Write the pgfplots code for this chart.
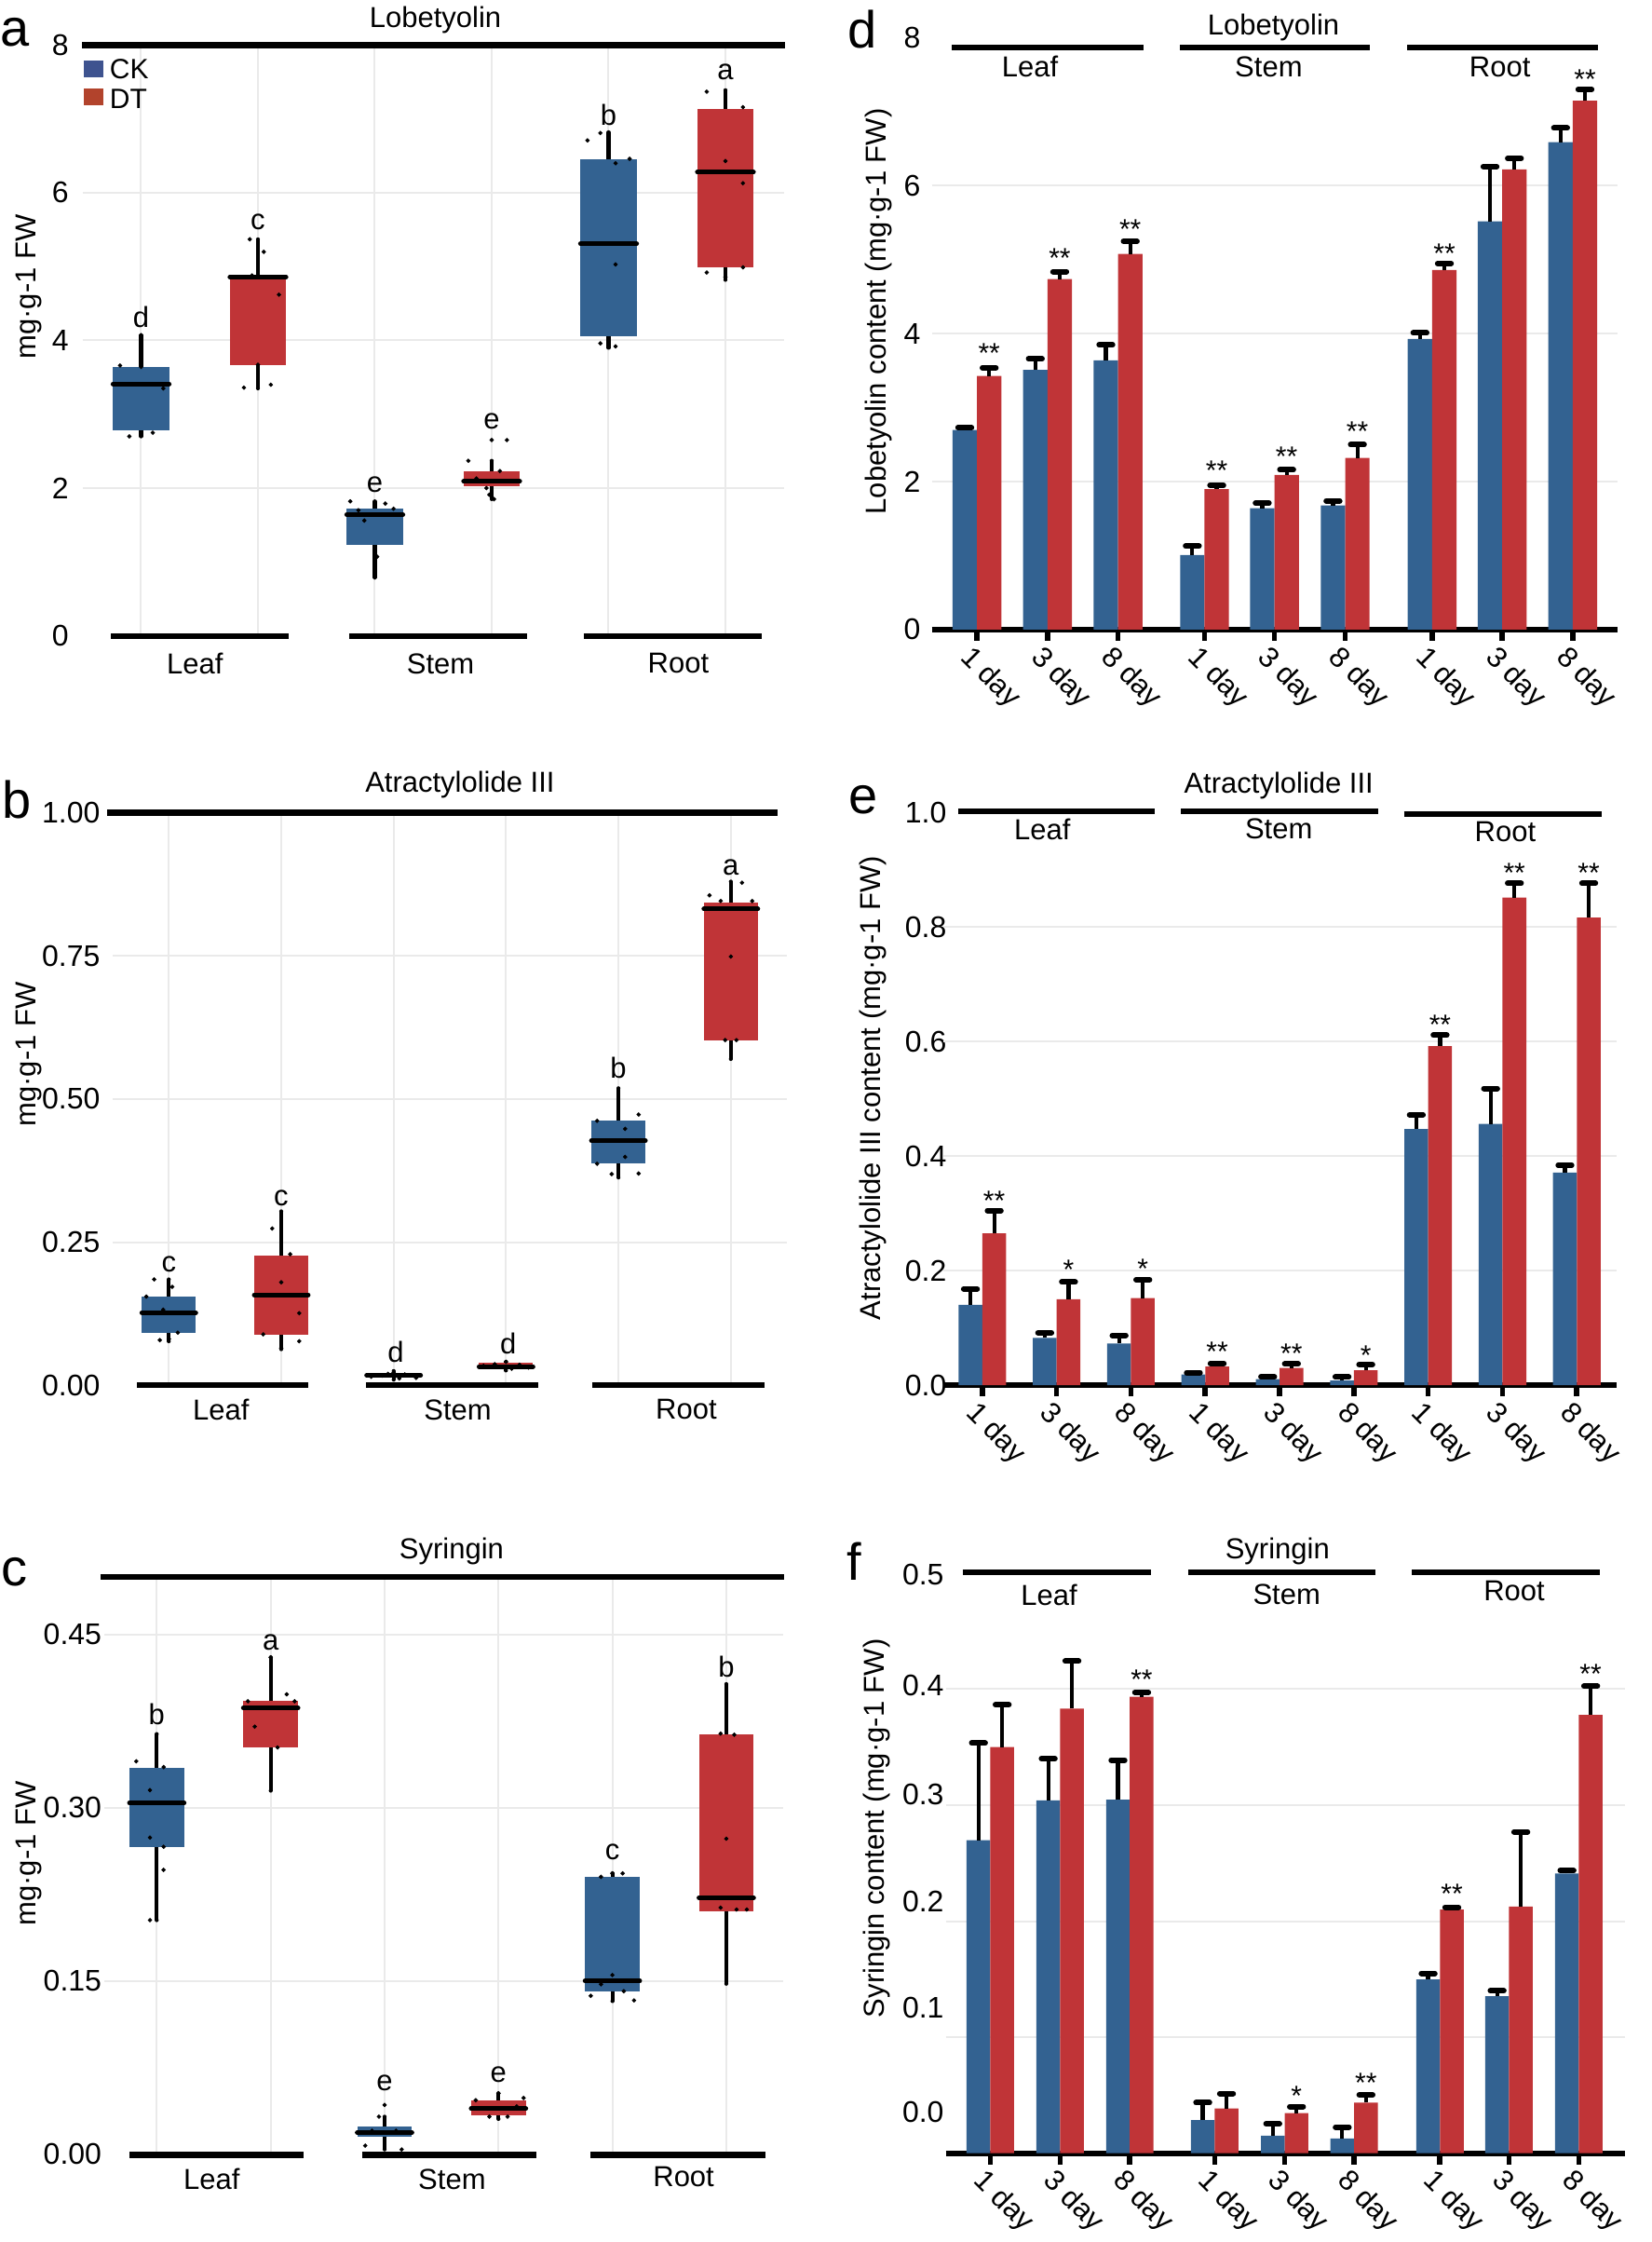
\documentclass[border=0pt]{standalone}
\usepackage{fontspec}
\setmainfont{Liberation Sans}
\usepackage{pgfplots}
\usepackage{pgfplotstable}
\pgfplotsset{compat=1.18}
\usepgfplotslibrary{statistics}
\definecolor{boxblue}{RGB}{51,98,145}
\definecolor{boxred}{RGB}{192,52,55}
\definecolor{legblue}{RGB}{62,83,143}
\definecolor{legred}{RGB}{178,67,44}
\definecolor{gridgray}{RGB}{234,234,234}
\newcommand{\fs}[1]{\fontsize{#1}{#1}\selectfont}

\pgfplotstableread{
x ck cke dt dte
0     2.70 0.03 3.43 0.11
1     3.51 0.15 4.74 0.10
2     3.64 0.21 5.08 0.17
3.226 1.01 0.12 1.90 0.05
4.217 1.64 0.07 2.09 0.07
5.22  1.68 0.06 2.32 0.18
6.453 3.93 0.08 4.86 0.09
7.446 5.52 0.74 6.22 0.15
8.446 6.59 0.19 7.15 0.15
}\dataD
\pgfplotstableread{
x ck cke dt dte
0 0.140  0.028  0.265  0.040
1 0.0825 0.009  0.150  0.030
2 0.0728 0.014  0.152  0.032
3 0.0186 0.0032 0.0324 0.0056
4 0.0105 0.004  0.030  0.007
5 0.008  0.006  0.026  0.010
6 0.447  0.025  0.592  0.019
7 0.456  0.062  0.851  0.025
8 0.371  0.013  0.816  0.060
}\dataE
\pgfplotstableread{
x ck cke dt dte
0     0.2697 0.0837 0.350  0.0365
1     0.304  0.036  0.383  0.041
2     0.3047 0.034  0.3933 0.0037
3.216 0.0285 0.015  0.0386 0.0129
4.22  0.0152 0.0102 0.0346 0.0056
5.216 0.0128 0.0097 0.0435 0.0068
6.447 0.1497 0.0053 0.210  0.002
7.436 0.1352 0.0048 0.2125 0.0645
8.438 0.241  0.0025 0.3776 0.0249
}\dataF

\pgfplotsset{
 boxpanel/.style={
   scale only axis, anchor=south west,
   xmin=0.5, xmax=6.5,
   xtick={1,2,3,4,5,6}, xticklabels={}, xmajorgrids,
   axis line style={draw=none}, tick style={draw=none},
   grid style={line width=1pt, gridgray},
   clip=false,
   yticklabel style={font=\fs{16}, inner sep=0pt, anchor=east},
   extra y tick labels={}, extra y tick style={grid=major},
   boxplot/draw direction=y,
   boxplot/box extend=0.48, boxplot/whisker extend=0,
   boxplot/every box/.style={draw=none},
   boxplot/every whisker/.style={draw=black, line width=2.1pt, line cap=round},
   boxplot/every median/.style={draw=black, line width=2.5pt, line cap=round},
 },
 dots/.style={only marks, mark=*, mark size=0.95pt, black},
 barpanel/.style={
   scale only axis, anchor=south west, ybar,
   axis x line*=bottom, axis y line*=left,
   x axis line style={-, line width=2.9pt, black},
   y axis line style={draw=none},
   tick align=outside, major tick length=6pt,
   xtick style={line width=2.8pt, black},
   ytick style={draw=none},
   xticklabels={1 day,3 day,8 day,1 day,3 day,8 day,1 day,3 day,8 day},
   xticklabel style={rotate=-45, anchor=north west, inner sep=0pt, font=\fs{15.5}, yshift=-2pt},
   yticklabel style={font=\fs{16}, inner sep=0pt, anchor=east},
   grid style={line width=1pt, gridgray},
   extra y tick labels={}, extra y tick style={grid=major},
   clip=false, ymin=0,
 },
 errs/.style={
   error bars/y dir=plus, error bars/y explicit,
   error bars/error bar style={draw=black, line width=2.1pt},
   error bars/error mark options={draw=black, line width=3pt, line cap=round, mark size=3.6pt, rotate=90}},
 ckbar/.style={fill=boxblue, draw=none, errs},
 dtbar/.style={fill=boxred, draw=none, errs},
}
\tikzset{
 star/.style={font=\fs{15}, inner sep=0pt, yshift=-3.2pt},
 lett/.style={font=\fs{15.5}, inner sep=0pt},
}

\begin{document}
\begin{tikzpicture}
\path[use as bounding box] (0pt,0pt) rectangle (886.5pt,1203.5pt);

% ---------------- panel a
\begin{axis}[boxpanel, at={(44.375pt,862.25pt)}, width=376.5pt, height=317pt,
  ymin=0, ymax=8, ytick={0,2,4,6,8}, yticklabels={0,2,4,6,8}, extra y ticks={2,4,6},
  yticklabel style={xshift=-7.3pt}]
\addplot[fill=boxblue, draw=black, boxplot prepared={lower whisker=2.70, lower quartile=2.78, median=3.41, upper quartile=3.64, upper whisker=4.07, draw position=1}] coordinates {};
\addplot[fill=boxred, draw=black, boxplot prepared={lower whisker=3.35, lower quartile=3.67, median=4.86, upper quartile=4.88, upper whisker=5.37, draw position=2}] coordinates {};
\addplot[fill=boxblue, draw=black, boxplot prepared={lower whisker=0.79, lower quartile=1.23, median=1.64, upper quartile=1.72, upper whisker=1.82, draw position=3}] coordinates {};
\addplot[fill=boxred, draw=black, boxplot prepared={lower whisker=1.85, lower quartile=2.02, median=2.09, upper quartile=2.23, upper whisker=2.37, draw position=4}] coordinates {};
\addplot[fill=boxblue, draw=black, boxplot prepared={lower whisker=3.90, lower quartile=4.06, median=5.31, upper quartile=6.46, upper whisker=6.82, draw position=5}] coordinates {};
\addplot[fill=boxred, draw=black, boxplot prepared={lower whisker=4.82, lower quartile=4.99, median=6.28, upper quartile=7.13, upper whisker=7.39, draw position=6}] coordinates {};
\addplot[dots] coordinates {(0.82,3.66)(1.19,3.35)(0.90,2.70)(1.10,2.75)(1,4.07)(1,3.64)(1,2.72)
 (1.93,5.37)(2.05,5.20)(1.95,4.88)(2.18,4.62)(1.88,3.36)(2.11,3.40)(2,3.67)
 (2.79,1.82)(2.86,1.70)(3.09,1.79)(3.16,1.72)(2.91,1.56)(3,1.19)(3.02,1.07)(3,0.79)
 (3.80,2.37)(4,2.65)(4.13,2.65)(4.07,2.23)(3.87,2.13)(3.955,2.0)(3.98,1.91)(4.02,1.85)
 (4.82,6.71)(4.93,6.81)(5.06,6.40)(5.18,6.46)(5.06,5.03)(4.93,3.96)(5.06,3.92)
 (5.84,7.37)(6.15,7.16)(6,6.43)(6.15,6.13)(5.84,4.92)(6.15,4.99)(6,4.86)};
\node[lett] at (axis cs:1,4.31) {d};
\node[lett] at (axis cs:2,5.60) {c};
\node[lett] at (axis cs:3,2.04) {e};
\node[lett] at (axis cs:4,2.90) {e};
\node[lett] at (axis cs:5,7.05) {b};
\node[lett] at (axis cs:6,7.63) {a};
\end{axis}

% ---------------- panel b
\begin{axis}[boxpanel, at={(60.475pt,459.85pt)}, width=362.1pt, height=307.3pt,
  ymin=0, ymax=1, ytick={0,0.25,0.5,0.75,1}, yticklabels={0.00,0.25,0.50,0.75,1.00},
  extra y ticks={0.25,0.5,0.75}, yticklabel style={xshift=-6.6pt}]
\addplot[fill=boxblue, draw=black, boxplot prepared={lower whisker=0.077, lower quartile=0.0916, median=0.127, upper quartile=0.155, upper whisker=0.185, draw position=1}] coordinates {};
\addplot[fill=boxred, draw=black, boxplot prepared={lower whisker=0.063, lower quartile=0.0885, median=0.158, upper quartile=0.227, upper whisker=0.304, draw position=2}] coordinates {};
\addplot[fill=boxblue, draw=black, boxplot prepared={lower whisker=0.010, lower quartile=0.013, median=0.0175, upper quartile=0.022, upper whisker=0.025, draw position=3}] coordinates {};
\addplot[fill=boxred, draw=black, boxplot prepared={lower whisker=0.026, lower quartile=0.0284, median=0.033, upper quartile=0.0395, upper whisker=0.041, draw position=4}] coordinates {};
\addplot[fill=boxblue, draw=black, boxplot prepared={lower whisker=0.363, lower quartile=0.387, median=0.4275, upper quartile=0.462, upper whisker=0.519, draw position=5}] coordinates {};
\addplot[fill=boxred, draw=black, boxplot prepared={lower whisker=0.570, lower quartile=0.603, median=0.832, upper quartile=0.844, upper whisker=0.880, draw position=6}] coordinates {};
\addplot[dots] coordinates {(0.87,0.185)(1.03,0.172)(0.80,0.155)(0.95,0.132)(0.92,0.079)(1.08,0.092)(1,0.081)
 (1.92,0.274)(2.08,0.229)(2,0.180)(2.16,0.126)(1.84,0.089)(2.16,0.077)(2,0.065)
 (2.8,0.015)(2.9,0.017)(3,0.022)(3.05,0.012)(3.1,0.019)(3.2,0.013)(2.95,0.02)
 (3.8,0.034)(3.9,0.037)(4,0.041)(4.05,0.029)(4.12,0.036)(4.2,0.031)
 (4.81,0.462)(5.18,0.473)(5.06,0.448)(5.06,0.399)(4.81,0.387)(4.94,0.369)(5.18,0.370)
 (5.81,0.856)(6.1,0.878)(5.91,0.846)(6.19,0.846)(6,0.749)(5.95,0.603)(6.05,0.603)};
\node[lett] at (axis cs:1,0.2115) {c};
\node[lett] at (axis cs:2,0.327) {c};
\node[lett] at (axis cs:3.02,0.0577) {d};
\node[lett] at (axis cs:4.02,0.0735) {d};
\node[lett] at (axis cs:5,0.555) {b};
\node[lett] at (axis cs:6,0.905) {a};
\end{axis}

% ---------------- panel c
\begin{axis}[boxpanel, at={(56.05pt,47.2pt)}, width=364.5pt, height=310.05pt,
  xmin=0.54, ymin=0, ymax=0.5, ytick={0,0.15,0.30,0.45}, yticklabels={0.00,0.15,0.30,0.45},
  extra y ticks={0.15,0.30,0.45}, yticklabel style={xshift=-1.35pt}]
\addplot[fill=boxblue, draw=black, boxplot prepared={lower whisker=0.2025, lower quartile=0.2656, median=0.304, upper quartile=0.334, upper whisker=0.3636, draw position=1}] coordinates {};
\addplot[fill=boxred, draw=black, boxplot prepared={lower whisker=0.3146, lower quartile=0.3522, median=0.3862, upper quartile=0.3927, upper whisker=0.430, draw position=2}] coordinates {};
\addplot[fill=boxblue, draw=black, boxplot prepared={lower whisker=0.004, lower quartile=0.015, median=0.0186, upper quartile=0.0239, upper whisker=0.0324, draw position=3}] coordinates {};
\addplot[fill=boxred, draw=black, boxplot prepared={lower whisker=0.0304, lower quartile=0.0336, median=0.0393, upper quartile=0.0466, upper whisker=0.0526, draw position=4}] coordinates {};
\addplot[fill=boxblue, draw=black, boxplot prepared={lower whisker=0.1324, lower quartile=0.1409, median=0.1498, upper quartile=0.240, upper whisker=0.243, draw position=5}] coordinates {};
\addplot[fill=boxred, draw=black, boxplot prepared={lower whisker=0.1474, lower quartile=0.2105, median=0.2219, upper quartile=0.3632, upper whisker=0.4069, draw position=6}] coordinates {};
\addplot[dots] coordinates {(0.82,0.340)(1.06,0.335)(0.94,0.315)(0.94,0.274)(1.06,0.266)(1.06,0.246)(0.94,0.2025)
 (1.8,0.392)(2.14,0.398)(2.21,0.392)(1.86,0.370)(2.06,0.352)(2,0.43)
 (3,0.0425)(2.95,0.0324)(2.83,0.0073)(3.15,0.004)(3.1,0.0202)(2.89,0.0202)
 (3.8,0.0466)(4.22,0.0486)(4,0.0526)(3.92,0.0324)(4.08,0.0324)(4.16,0.0413)
 (4.9,0.240)(5,0.243)(5.09,0.243)(5,0.155)(4.9,0.147)(4.81,0.137)(5.1,0.141)(5.19,0.133)
 (5.95,0.364)(6.07,0.363)(6,0.273)(5.95,0.2133)(6.09,0.2117)(6.18,0.2117)};
\node[lett] at (axis cs:1,0.3806) {b};
\node[lett] at (axis cs:2,0.4433) {a};
\node[lett] at (axis cs:3,0.0615) {e};
\node[lett] at (axis cs:4,0.0688) {e};
\node[lett] at (axis cs:5,0.2611) {c};
\node[lett] at (axis cs:6,0.4218) {b};
\end{axis}

% ---------------- panel d
\begin{axis}[barpanel, at={(500.35pt,865.5pt)}, width=368.2pt, height=317.7pt,
  xmin=-0.639, xmax=9.083, ymax=8, xtick={0,1,2,3.226,4.217,5.22,6.453,7.446,8.446},
  ytick={0,2,4,6,8}, yticklabels={0,2,4,6,8}, extra y ticks={2,4,6},
  yticklabel style={xshift=0pt}]
\addplot[ckbar, bar width=0.346, bar shift=-0.173] table[x=x, y=ck, y error=cke] {\dataD};
\addplot[dtbar, bar width=0.346, bar shift=0.173] table[x=x, y=dt, y error=dte] {\dataD};
\node[star] at (axis cs:0.173,3.815) {**};
\node[star] at (axis cs:1.173,5.10) {**};
\node[star] at (axis cs:2.173,5.49) {**};
\node[star] at (axis cs:3.4,2.23) {**};
\node[star] at (axis cs:4.39,2.42) {**};
\node[star] at (axis cs:5.393,2.76) {**};
\node[star] at (axis cs:6.626,5.16) {**};
\node[star] at (axis cs:8.62,7.52) {**};
\end{axis}

% ---------------- panel e
\begin{axis}[barpanel, at={(506.35pt,459.95pt)}, width=361.65pt, height=307.5pt,
  xmin=-0.528, xmax=8.536, ymax=1, xtick={0,1,2,3,4,5,6,7,8},
  ytick={0,0.2,0.4,0.6,0.8,1.0}, yticklabels={0.0,0.2,0.4,0.6,0.8,1.0}, extra y ticks={0.2,0.4,0.6,0.8},
  yticklabel style={xshift=8pt}]
\addplot[ckbar, bar width=0.32, bar shift=-0.16] table[x=x, y=ck, y error=cke] {\dataE};
\addplot[dtbar, bar width=0.32, bar shift=0.16] table[x=x, y=dt, y error=dte] {\dataE};
\node[star] at (axis cs:0.16,0.332) {**};
\node[star] at (axis cs:1.16,0.212) {*};
\node[star] at (axis cs:2.16,0.214) {*};
\node[star] at (axis cs:3.16,0.0688) {**};
\node[star] at (axis cs:4.16,0.066) {**};
\node[star] at (axis cs:5.16,0.063) {*};
\node[star] at (axis cs:6.16,0.639) {**};
\node[star] at (axis cs:7.16,0.905) {**};
\node[star] at (axis cs:8.16,0.905) {**};
\end{axis}

% ---------------- panel f
\begin{axis}[barpanel, at={(507.75pt,47.65pt)}, width=364.5pt, height=311.5pt,
  xmin=-0.64, xmax=9.094, ymax=0.5, xtick={0,1,2,3.216,4.22,5.216,6.447,7.436,8.438},
  ytick={0.0355,0.125,0.2168,0.3094,0.4033,0.4987}, yticklabels={0.0,0.1,0.2,0.3,0.4,0.5},
  extra y ticks={0.1,0.2,0.3,0.4}, yticklabel style={xshift=5.2pt}]
\addplot[ckbar, bar width=0.34, bar shift=-0.17] table[x=x, y=ck, y error=cke] {\dataF};
\addplot[dtbar, bar width=0.34, bar shift=0.17] table[x=x, y=dt, y error=dte] {\dataF};
\node[star] at (axis cs:2.17,0.413) {**};
\node[star] at (axis cs:4.39,0.0543) {*};
\node[star] at (axis cs:5.386,0.0656) {**};
\node[star] at (axis cs:6.617,0.2286) {**};
\node[star] at (axis cs:8.608,0.418) {**};
\end{axis}

% ---------------- annotations in pixel coordinates
\begin{scope}[x=0.5pt, y=-0.5pt, yshift=1203.5pt]
\tikzset{lw/.style={line width=3.2pt, black}}
% panel a
\draw[lw] (88.1,48.5) -- (842.9,48.5);
\draw[lw] (119,683) -- (309.8,683);
\draw[lw] (374.9,683) -- (565.7,683);
\draw[lw] (626.9,683) -- (817.7,683);
% panel b
\draw[lw] (115,872.7) -- (835.1,872.7);
\draw[lw] (147,1487.3) -- (331.1,1487.3);
\draw[lw] (392.8,1487.3) -- (578,1487.3);
\draw[lw] (635.8,1487.3) -- (820.5,1487.3);
% panel c
\draw[lw] (107.8,1692.8) -- (841.8,1692.8);
\draw[lw] (139.2,2313.6) -- (325.5,2313.6);
\draw[lw] (388.9,2313.6) -- (576.4,2313.6);
\draw[lw] (634.2,2313.6) -- (822.2,2313.6);
% panel d
\draw[lw] (1022.4,50.9) -- (1228,50.9);
\draw[lw] (1267.3,50.9) -- (1471.1,50.9);
\draw[lw] (1511,50.9) -- (1715.5,50.9);
% panel e
\draw[lw] (1029.2,871.1) -- (1239.9,871.1);
\draw[lw] (1268.4,871.1) -- (1479.7,871.1);
\draw[lw] (1507.6,874.1) -- (1720,874.1);
% panel f
\draw[lw] (1033.8,1687.8) -- (1235.9,1687.8);
\draw[lw] (1275.8,1687.8) -- (1476.8,1687.8);
\draw[lw] (1516.1,1687.8) -- (1718.3,1687.8);

\tikzset{tt/.style={anchor=base, inner sep=0pt, font=\fs{15.5}}}
% titles
\node[tt] at (467.5,30) {Lobetyolin};
\node[tt] at (493.9,850.9) {Atractylolide III};
\node[tt] at (484.9,1673.7) {Syringin};
\node[tt] at (1367.5,37.3) {Lobetyolin};
\node[tt] at (1373.2,851.2) {Atractylolide III};
\node[tt] at (1371.8,1673.7) {Syringin};
% group labels
\node[tt] at (209.3,723.2) {Leaf};
\node[tt] at (473.1,723.7) {Stem};
\node[tt] at (728.4,722.2) {Root};
\node[tt] at (237.4,1524.6) {Leaf};
\node[tt] at (491.6,1524.6) {Stem};
\node[tt] at (736.9,1523.7) {Root};
\node[tt] at (227.3,2350.3) {Leaf};
\node[tt] at (485.4,2350.3) {Stem};
\node[tt] at (734.1,2347.8) {Root};
\node[tt] at (1106.1,82.4) {Leaf};
\node[tt] at (1362.4,82.4) {Stem};
\node[tt] at (1610.7,82.4) {Root};
\node[tt] at (1119.2,902) {Leaf};
\node[tt] at (1373.2,901) {Stem};
\node[tt] at (1616.4,903.5) {Root};
\node[tt] at (1126.6,1723.9) {Leaf};
\node[tt] at (1381.7,1722.9) {Stem};
\node[tt] at (1626,1718.9) {Root};
% y labels
\tikzset{yl/.style={rotate=90, anchor=center, inner sep=0pt, font=\fs{15.5}}}
\node[yl] at (31,308) {mg·g-1 FW};
\node[yl] at (31,1132) {mg·g-1 FW};
\node[yl] at (31,1990) {mg·g-1 FW};
\node[yl] at (943,334.4) {Lobetyolin content (mg·g-1 FW)};
\node[yl] at (937,1168.1) {Atractylolide III content (mg·g-1 FW)};
\node[yl] at (941,1962.8) {Syringin content (mg·g-1 FW)};
% panel letters
\tikzset{pl/.style={anchor=center, inner sep=0pt, font=\fs{28}}}
\node[pl] at (16,34.9) {a};
\node[pl] at (18.5,858.2) {b};
\node[pl] at (15.2,1687.8) {c};
\node[pl] at (925.6,31.5) {d};
\node[pl] at (926.7,858.7) {e};
\node[pl] at (917.6,1676.2) {f};
% legend
\fill[legblue] (89.8,65.4) rectangle (110.6,83.4);
\fill[legred] (89.8,95.5) rectangle (110.6,112.9);
\node[anchor=base west, inner sep=0pt, font=\fs{15}] at (117.5,84.8) {CK};
\node[anchor=base west, inner sep=0pt, font=\fs{15}] at (117.5,116.3) {DT};
\end{scope}
\end{tikzpicture}
\end{document}
